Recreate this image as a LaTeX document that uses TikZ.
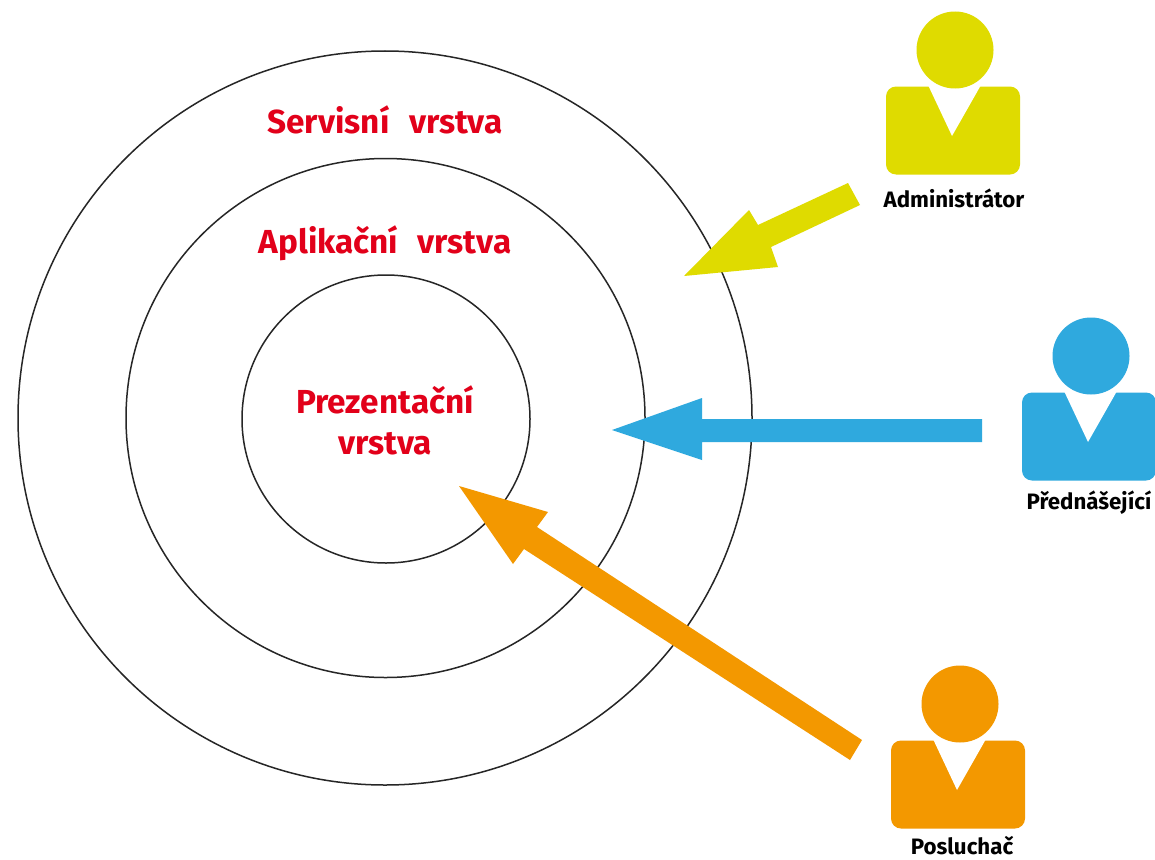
\documentclass[tikz,border=0pt]{standalone}
\usepackage{fontspec}
\setmainfont{Fira Sans}[BoldFont={Fira Sans Bold}]
\definecolor{cyel}{HTML}{DFDB00}
\definecolor{cblu}{HTML}{2FA9DE}
\definecolor{cora}{HTML}{F39800}
\definecolor{cred}{HTML}{E2001A}
\tikzset{
  ring/.style={draw=black!85,line width=1.5pt,fill=none},
  layer/.style={text=cred,font=\bfseries\fontsize{33.3}{41}\selectfont,align=center,inner sep=0pt},
  role/.style={text=black,font=\bfseries\fontsize{22.3}{26}\selectfont,inner sep=0pt},
  pics/person/.style={code={
    \fill[#1,rounded corners=10] (-69,36.5) rectangle (65,124.5);
    \fill[white] (-27,35) -- (-3,86) -- (26,35) -- cycle;
    \fill[#1] (0,0) circle (38.5);
  }}
}
\begin{document}
\begin{tikzpicture}[x=1pt,y=-1pt]
\useasboundingbox (0,0) rectangle (1155,859);
\fill[white] (0,0) rectangle (1155,859);
\node[ring,circle,minimum size=734pt,inner sep=0pt] (outer) at (385,418) {};
\node[ring,circle,minimum size=519pt,inner sep=0pt] (middle) at (385.5,418) {};
\node[ring,circle,minimum size=288pt,inner sep=0pt] (inner) at (386,419) {};
\fill[cyel] (684,276) -- (749,210) -- (758,225) -- (848,183) -- (860,205) -- (771,247) -- (778,267) -- cycle;
\fill[cblu] (612,430) -- (702,398) -- (702,419) -- (982,419) -- (982,442) -- (702,442) -- (702,460) -- cycle;
\fill[cora] (459,486) -- (548,512) -- (537,527) -- (862,740) -- (850,760) -- (524,549) -- (513,564) -- cycle;
\pic at (955,50) {person=cyel};
\pic at (1091,356) {person=cblu};
\pic at (960,704) {person=cora};
\node[layer] (servisni) at (385,120) {Servisní\hspace{0.35em} vrstva};
\node[layer] (aplikacni) at (385,243) {Aplikační\hspace{0.35em} vrstva};
\node[layer] (prezentacni) at (385,420) {Prezentační\\vrstva};
\node[role] (admin) at (954,198) {Administrátor};
\node[role] (pred) at (1089,503) {Přednášející};
\node[role] (posl) at (962,846) {Posluchač};
\end{tikzpicture}
\end{document}
